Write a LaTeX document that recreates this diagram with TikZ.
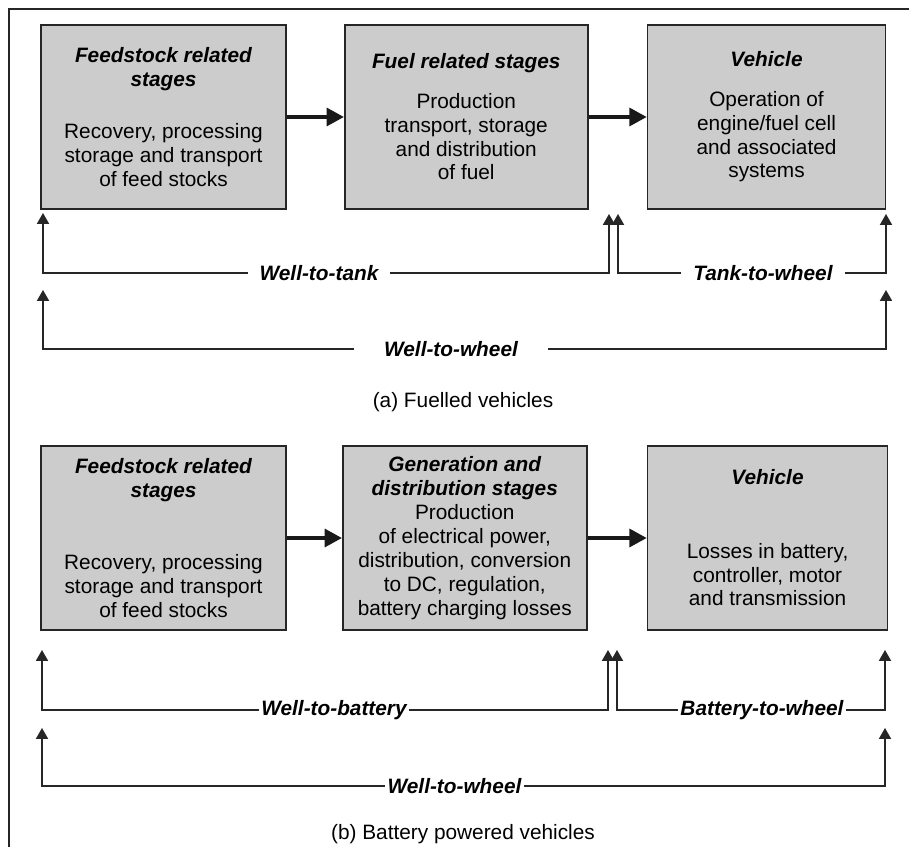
\documentclass[tikz,border=0pt]{standalone}
\usepackage{fontspec}
\setmainfont{Liberation Sans}
\usetikzlibrary{positioning,arrows.meta}
\newcommand{\stagehd}[1]{{\bfseries\itshape #1}}

\begin{document}
\begin{tikzpicture}[x=0.025cm, y=-0.025cm,
  font=\fontsize{14.8}{17}\selectfont,
  box/.style={draw=black!85, line width=1.2pt, fill=black!20, align=center,
              minimum height=4.6cm, inner sep=2pt},
  lbl/.style={font=\fontsize{14.8}{17}\selectfont\bfseries\itshape, inner ysep=0pt,
              inner xsep=0.3cm, outer sep=0pt},
  tight/.style={lbl, inner xsep=0.07cm},
  arr/.style={-{Triangle[length=0.43cm, width=0.45cm]}, line width=2.2pt, black!90},
  uparr/.style={-{Triangle[length=0.27cm, width=0.3cm]}, line width=1pt, black!85}]
\useasboundingbox (0,0) rectangle (909,847);
\draw[line width=1.3pt, black!85] (9,900) |- (960,9);
% (a) fuelled vehicles
\node[box, minimum width=6.125cm] (feedA) at (163.5,117)
  {\stagehd{Feedstock related}\\ \stagehd{stages}\\[20pt] Recovery, processing\\ storage and transport\\ of feed stocks};
\node[box, minimum width=6.075cm, right=1.425cm of feedA] (fuelA)
  {\stagehd{Fuel related stages}\\[11pt] Production\\ transport, storage\\ and distribution\\ of fuel};
\node[box, minimum width=5.95cm, right=1.45cm of fuelA] (vehA)
  {\stagehd{Vehicle}\\[11pt] Operation of\\ engine/fuel cell\\ and associated\\ systems};
\draw[arr] (feedA) -- (fuelA);
\draw[arr] (fuelA) -- (vehA);
\coordinate (tA1) at (43,213);
\coordinate (tA2) at (609,214);
\coordinate (tA3) at (618,214);
\coordinate (tA4) at (886,214);
\coordinate (tA5) at (43,290);
\coordinate (tA6) at (886,290);
\node[lbl] (wtt) at (319,273) {Well-to-tank};
\node[lbl] (ttw) at (763,273) {Tank-to-wheel};
\node[lbl, inner xsep=0.75cm] (wtwA) at (451,349) {Well-to-wheel};
\draw[uparr] (wtt.west) -| (tA1);
\draw[uparr] (wtt.east) -| (tA2);
\draw[uparr] (ttw.west) -| (tA3);
\draw[uparr] (ttw.east) -| (tA4);
\draw[uparr] (wtwA.west) -| (tA5);
\draw[uparr] (wtwA.east) -| (tA6);
\node (capA) at (463,402) {(a) Fuelled vehicles};
% (b) battery powered vehicles
\node[box, minimum width=6.125cm] (feedB) at (163.5,538)
  {\stagehd{Feedstock related}\\ \stagehd{stages}\\[34pt] Recovery, processing\\ storage and transport\\ of feed stocks};
\node[box, minimum width=6.1cm, right=1.375cm of feedB] (genB)
  {\stagehd{Generation and}\\ \stagehd{distribution stages}\\ Production\\ of electrical power,\\
   distribution, conversion\\ to DC, regulation,\\ battery charging losses};
\node[box, minimum width=6cm, right=1.475cm of genB] (vehB)
  {\stagehd{Vehicle}\\[35pt] Losses in battery,\\ controller, motor\\ and transmission};
\draw[arr] (feedB) -- (genB);
\draw[arr] (genB) -- (vehB);
\coordinate (tB1) at (42,650);
\coordinate (tB2) at (608,650);
\coordinate (tB3) at (617,650);
\coordinate (tB4) at (885,650);
\coordinate (tB5) at (42,728);
\coordinate (tB6) at (885,728);
\node[tight] (wtb) at (334,710) {Well-to-battery};
\node[tight] (btw) at (762,710) {Battery-to-wheel};
\node[tight] (wtwB) at (454.5,786) {Well-to-wheel};
\draw[uparr] (wtb.west) -| (tB1);
\draw[uparr] (wtb.east) -| (tB2);
\draw[uparr] (btw.west) -| (tB3);
\draw[uparr] (btw.east) -| (tB4);
\draw[uparr] (wtwB.west) -| (tB5);
\draw[uparr] (wtwB.east) -| (tB6);
\node (capB) at (463,834) {(b) Battery powered vehicles};
\end{tikzpicture}
\end{document}
